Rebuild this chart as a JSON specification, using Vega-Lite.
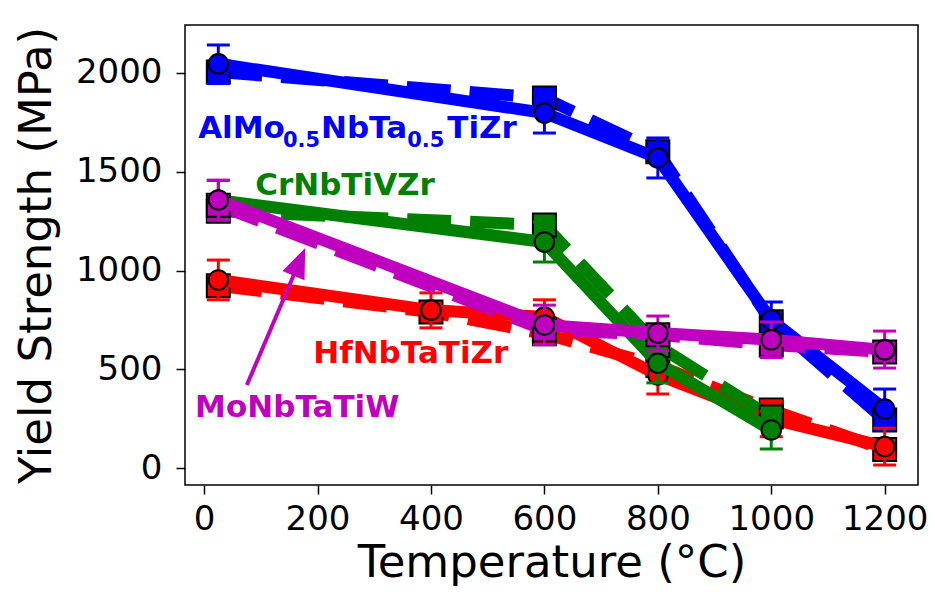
{
"$schema": "https://vega.github.io/schema/vega-lite/v6.json",
"width": 733, "height": 460,
"autosize": {"type": "none"},
"padding": {"left": 185, "top": 25, "right": 17, "bottom": 109},
"background": "white",
"config": {
  "view": {"stroke": "black", "strokeWidth": 1.5},
  "axis": {"domain": false, "grid": false, "format": "d", "tickColor": "black", "tickWidth": 1.5, "tickSize": 9, "labelFont": "DejaVu Sans", "labelFontSize": 34, "labelColor": "black", "labelFlush": false, "labelOverlap": false, "titleFont": "DejaVu Sans", "titleFontSize": 45, "titleFontWeight": "normal", "titleColor": "black"},
  "axisX": {"labelPadding": 8, "titlePadding": 4},
  "axisY": {"labelPadding": 14, "titlePadding": 16}
},
"datasets": {
  "d": [
    {"a": "AlMo", "T": 25, "e": 2003, "p": 2045, "lo": 1945, "hi": 2140},
    {"a": "AlMo", "T": 600, "e": 1872, "p": 1796, "lo": 1695, "hi": 1897},
    {"a": "AlMo", "T": 800, "e": 1600, "p": 1569, "lo": 1468, "hi": 1670},
    {"a": "AlMo", "T": 1000, "e": 741, "p": 750, "lo": 659, "hi": 841},
    {"a": "AlMo", "T": 1200, "e": 245, "p": 300, "lo": 200, "hi": 401},
    {"a": "HfNb", "T": 25, "e": 923, "p": 952, "lo": 852, "hi": 1053},
    {"a": "HfNb", "T": 400, "e": 790, "p": 800, "lo": 710, "hi": 887},
    {"a": "HfNb", "T": 600, "e": 680, "p": 765, "lo": 678, "hi": 852},
    {"a": "HfNb", "T": 800, "e": 520, "p": 472, "lo": 376, "hi": 568},
    {"a": "HfNb", "T": 1000, "e": 295, "p": 250, "lo": 160, "hi": 340},
    {"a": "HfNb", "T": 1200, "e": 95, "p": 110, "lo": 17, "hi": 203},
    {"a": "CrNb", "T": 25, "e": 1300, "p": 1355, "lo": 1255, "hi": 1455},
    {"a": "CrNb", "T": 600, "e": 1230, "p": 1144, "lo": 1043, "hi": 1245},
    {"a": "CrNb", "T": 800, "e": 620, "p": 532, "lo": 432, "hi": 632},
    {"a": "CrNb", "T": 1000, "e": 260, "p": 194, "lo": 98, "hi": 290},
    {"a": "MoNb", "T": 25, "e": 1330, "p": 1357, "lo": 1257, "hi": 1457},
    {"a": "MoNb", "T": 600, "e": 700, "p": 725, "lo": 625, "hi": 825},
    {"a": "MoNb", "T": 800, "e": 675, "p": 684, "lo": 594, "hi": 770},
    {"a": "MoNb", "T": 1000, "e": 624, "p": 650, "lo": 560, "hi": 740},
    {"a": "MoNb", "T": 1200, "e": 588, "p": 599, "lo": 507, "hi": 694}
  ],
  "labels": [
    {"a": "AlMo", "T": -10.6, "v": 1670, "s": "AlMo"},
    {"a": "AlMo", "T": 206, "v": 1670, "s": "NbTa"},
    {"a": "AlMo", "T": 428.8, "v": 1670, "s": "TiZr"},
    {"a": "CrNb", "T": 90, "v": 1382, "s": "CrNbTiVZr"},
    {"a": "HfNb", "T": 192.3, "v": 532, "s": "HfNbTaTiZr"},
    {"a": "MoNb", "T": -15.9, "v": 259, "s": "MoNbTaTiW"}
  ],
  "subs": [
    {"a": "AlMo", "T": 139, "v": 1624, "s": "0.5"},
    {"a": "AlMo", "T": 358, "v": 1624, "s": "0.5"}
  ],
  "arrow": [
    {"T": 75.3, "v": 421, "T2": 168, "v2": 1044, "Tt": 178.2, "vt": 1113.8}
  ]
},
"data": {"name": "d"},
"encoding": {
  "x": {"field": "T", "type": "quantitative", "scale": {"domain": [-33.75, 1258.75], "nice": false, "zero": false}, "axis": {"values": [0, 200, 400, 600, 800, 1000, 1200]}, "title": "Temperature (°C)"}
},
"layer": [
  {"transform": [{"filter": "datum.a === 'AlMo'"}], "encoding": {"color": {"value": "#0000ff"}},
   "layer": [
    {"mark": {"type": "line", "strokeWidth": 12, "strokeDash": [44, 19], "strokeJoin": "round"}, "encoding": {"y": {"field": "e", "type": "quantitative", "scale": {"domain": [-84, 2241], "nice": false, "zero": false}, "axis": {"values": [0, 500, 1000, 1500, 2000]}, "title": "Yield Strength (MPa)"}}},
    {"mark": {"type": "point", "shape": "square", "filled": true, "size": 529, "stroke": "black", "strokeWidth": 2, "opacity": 1}, "encoding": {"y": {"field": "e", "type": "quantitative", "scale": {"domain": [-84, 2241], "nice": false, "zero": false}, "title": "Yield Strength (MPa)"}}},
    {"mark": {"type": "rule", "strokeWidth": 3}, "encoding": {"y": {"field": "lo", "type": "quantitative", "scale": {"domain": [-84, 2241], "nice": false, "zero": false}, "title": "Yield Strength (MPa)"}, "y2": {"field": "hi"}}},
    {"mark": {"type": "tick", "orient": "horizontal", "size": 23, "thickness": 3, "opacity": 1}, "encoding": {"y": {"field": "lo", "type": "quantitative", "scale": {"domain": [-84, 2241], "nice": false, "zero": false}, "title": "Yield Strength (MPa)"}}},
    {"mark": {"type": "tick", "orient": "horizontal", "size": 23, "thickness": 3, "opacity": 1}, "encoding": {"y": {"field": "hi", "type": "quantitative", "scale": {"domain": [-84, 2241], "nice": false, "zero": false}, "title": "Yield Strength (MPa)"}}},
    {"mark": {"type": "line", "strokeWidth": 12, "strokeJoin": "round"}, "encoding": {"y": {"field": "p", "type": "quantitative", "scale": {"domain": [-84, 2241], "nice": false, "zero": false}, "title": "Yield Strength (MPa)"}}},
    {"mark": {"type": "point", "shape": "circle", "filled": true, "size": 380, "stroke": "black", "strokeWidth": 2, "opacity": 1}, "encoding": {"y": {"field": "p", "type": "quantitative", "scale": {"domain": [-84, 2241], "nice": false, "zero": false}, "title": "Yield Strength (MPa)"}}}
   ]},
  {"transform": [{"filter": "datum.a === 'HfNb'"}], "encoding": {"color": {"value": "#ff0000"}},
   "layer": [
    {"mark": {"type": "line", "strokeWidth": 12, "strokeDash": [44, 19], "strokeJoin": "round"}, "encoding": {"y": {"field": "e", "type": "quantitative", "scale": {"domain": [-84, 2241], "nice": false, "zero": false}, "title": "Yield Strength (MPa)"}}},
    {"mark": {"type": "point", "shape": "square", "filled": true, "size": 529, "stroke": "black", "strokeWidth": 2, "opacity": 1}, "encoding": {"y": {"field": "e", "type": "quantitative", "scale": {"domain": [-84, 2241], "nice": false, "zero": false}, "title": "Yield Strength (MPa)"}}},
    {"mark": {"type": "rule", "strokeWidth": 3}, "encoding": {"y": {"field": "lo", "type": "quantitative", "scale": {"domain": [-84, 2241], "nice": false, "zero": false}, "title": "Yield Strength (MPa)"}, "y2": {"field": "hi"}}},
    {"mark": {"type": "tick", "orient": "horizontal", "size": 23, "thickness": 3, "opacity": 1}, "encoding": {"y": {"field": "lo", "type": "quantitative", "scale": {"domain": [-84, 2241], "nice": false, "zero": false}, "title": "Yield Strength (MPa)"}}},
    {"mark": {"type": "tick", "orient": "horizontal", "size": 23, "thickness": 3, "opacity": 1}, "encoding": {"y": {"field": "hi", "type": "quantitative", "scale": {"domain": [-84, 2241], "nice": false, "zero": false}, "title": "Yield Strength (MPa)"}}},
    {"mark": {"type": "line", "strokeWidth": 12, "strokeJoin": "round"}, "encoding": {"y": {"field": "p", "type": "quantitative", "scale": {"domain": [-84, 2241], "nice": false, "zero": false}, "title": "Yield Strength (MPa)"}}},
    {"mark": {"type": "point", "shape": "circle", "filled": true, "size": 380, "stroke": "black", "strokeWidth": 2, "opacity": 1}, "encoding": {"y": {"field": "p", "type": "quantitative", "scale": {"domain": [-84, 2241], "nice": false, "zero": false}, "title": "Yield Strength (MPa)"}}}
   ]},
  {"transform": [{"filter": "datum.a === 'CrNb'"}], "encoding": {"color": {"value": "#008000"}},
   "layer": [
    {"mark": {"type": "line", "strokeWidth": 12, "strokeDash": [44, 19], "strokeJoin": "round"}, "encoding": {"y": {"field": "e", "type": "quantitative", "scale": {"domain": [-84, 2241], "nice": false, "zero": false}, "title": "Yield Strength (MPa)"}}},
    {"mark": {"type": "point", "shape": "square", "filled": true, "size": 529, "stroke": "black", "strokeWidth": 2, "opacity": 1}, "encoding": {"y": {"field": "e", "type": "quantitative", "scale": {"domain": [-84, 2241], "nice": false, "zero": false}, "title": "Yield Strength (MPa)"}}},
    {"mark": {"type": "rule", "strokeWidth": 3}, "encoding": {"y": {"field": "lo", "type": "quantitative", "scale": {"domain": [-84, 2241], "nice": false, "zero": false}, "title": "Yield Strength (MPa)"}, "y2": {"field": "hi"}}},
    {"mark": {"type": "tick", "orient": "horizontal", "size": 23, "thickness": 3, "opacity": 1}, "encoding": {"y": {"field": "lo", "type": "quantitative", "scale": {"domain": [-84, 2241], "nice": false, "zero": false}, "title": "Yield Strength (MPa)"}}},
    {"mark": {"type": "tick", "orient": "horizontal", "size": 23, "thickness": 3, "opacity": 1}, "encoding": {"y": {"field": "hi", "type": "quantitative", "scale": {"domain": [-84, 2241], "nice": false, "zero": false}, "title": "Yield Strength (MPa)"}}},
    {"mark": {"type": "line", "strokeWidth": 12, "strokeJoin": "round"}, "encoding": {"y": {"field": "p", "type": "quantitative", "scale": {"domain": [-84, 2241], "nice": false, "zero": false}, "title": "Yield Strength (MPa)"}}},
    {"mark": {"type": "point", "shape": "circle", "filled": true, "size": 380, "stroke": "black", "strokeWidth": 2, "opacity": 1}, "encoding": {"y": {"field": "p", "type": "quantitative", "scale": {"domain": [-84, 2241], "nice": false, "zero": false}, "title": "Yield Strength (MPa)"}}}
   ]},
  {"transform": [{"filter": "datum.a === 'MoNb'"}], "encoding": {"color": {"value": "#bf00bf"}},
   "layer": [
    {"mark": {"type": "line", "strokeWidth": 12, "strokeDash": [44, 19], "strokeJoin": "round"}, "encoding": {"y": {"field": "e", "type": "quantitative", "scale": {"domain": [-84, 2241], "nice": false, "zero": false}, "title": "Yield Strength (MPa)"}}},
    {"mark": {"type": "point", "shape": "square", "filled": true, "size": 529, "stroke": "black", "strokeWidth": 2, "opacity": 1}, "encoding": {"y": {"field": "e", "type": "quantitative", "scale": {"domain": [-84, 2241], "nice": false, "zero": false}, "title": "Yield Strength (MPa)"}}},
    {"mark": {"type": "rule", "strokeWidth": 3}, "encoding": {"y": {"field": "lo", "type": "quantitative", "scale": {"domain": [-84, 2241], "nice": false, "zero": false}, "title": "Yield Strength (MPa)"}, "y2": {"field": "hi"}}},
    {"mark": {"type": "tick", "orient": "horizontal", "size": 23, "thickness": 3, "opacity": 1}, "encoding": {"y": {"field": "lo", "type": "quantitative", "scale": {"domain": [-84, 2241], "nice": false, "zero": false}, "title": "Yield Strength (MPa)"}}},
    {"mark": {"type": "tick", "orient": "horizontal", "size": 23, "thickness": 3, "opacity": 1}, "encoding": {"y": {"field": "hi", "type": "quantitative", "scale": {"domain": [-84, 2241], "nice": false, "zero": false}, "title": "Yield Strength (MPa)"}}},
    {"mark": {"type": "line", "strokeWidth": 12, "strokeJoin": "round"}, "encoding": {"y": {"field": "p", "type": "quantitative", "scale": {"domain": [-84, 2241], "nice": false, "zero": false}, "title": "Yield Strength (MPa)"}}},
    {"mark": {"type": "point", "shape": "circle", "filled": true, "size": 380, "stroke": "black", "strokeWidth": 2, "opacity": 1}, "encoding": {"y": {"field": "p", "type": "quantitative", "scale": {"domain": [-84, 2241], "nice": false, "zero": false}, "title": "Yield Strength (MPa)"}}}
   ]},
  {"data": {"name": "arrow"},
   "mark": {"type": "rule", "strokeWidth": 4, "color": "#bf00bf"},
   "encoding": {"y": {"field": "v", "type": "quantitative", "scale": {"domain": [-84, 2241], "nice": false, "zero": false}, "title": "Yield Strength (MPa)"}, "x2": {"field": "T2"}, "y2": {"field": "v2"}}},
  {"data": {"name": "arrow"},
   "mark": {"type": "point", "shape": "M0,0L0.6,1.5L-0.6,1.5Z", "size": 1600, "filled": true, "opacity": 1, "color": "#bf00bf", "angle": 23},
   "encoding": {"x": {"field": "Tt", "type": "quantitative", "title": "Temperature (°C)"}, "y": {"field": "vt", "type": "quantitative", "scale": {"domain": [-84, 2241], "nice": false, "zero": false}, "title": "Yield Strength (MPa)"}}},
  {"data": {"name": "labels"},
   "mark": {"type": "text", "align": "left", "baseline": "alphabetic", "font": "DejaVu Sans", "fontWeight": "bold", "fontSize": 31},
   "encoding": {"y": {"field": "v", "type": "quantitative", "scale": {"domain": [-84, 2241], "nice": false, "zero": false}, "title": "Yield Strength (MPa)"}, "text": {"field": "s"},
     "color": {"field": "a", "type": "nominal", "scale": {"domain": ["AlMo", "HfNb", "CrNb", "MoNb"], "range": ["#0000ff", "#ff0000", "#008000", "#bf00bf"]}, "legend": null}}},
  {"data": {"name": "subs"},
   "mark": {"type": "text", "align": "left", "baseline": "alphabetic", "font": "DejaVu Sans", "fontWeight": "bold", "fontSize": 21},
   "encoding": {"y": {"field": "v", "type": "quantitative", "scale": {"domain": [-84, 2241], "nice": false, "zero": false}, "title": "Yield Strength (MPa)"}, "text": {"field": "s"},
     "color": {"field": "a", "type": "nominal", "scale": {"domain": ["AlMo", "HfNb", "CrNb", "MoNb"], "range": ["#0000ff", "#ff0000", "#008000", "#bf00bf"]}, "legend": null}}}
]
}
